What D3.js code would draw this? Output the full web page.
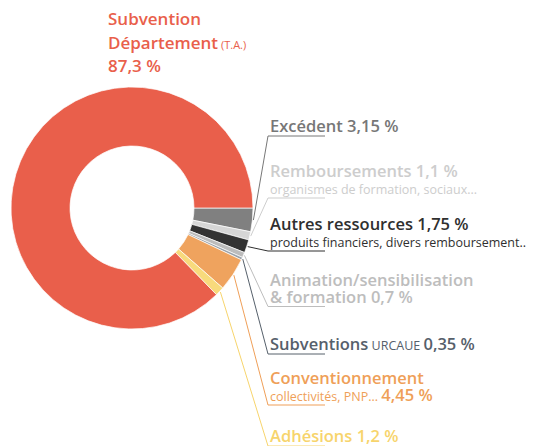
<!DOCTYPE html>
<html>
<head>
<meta charset="utf-8">
<script src="https://cdn.jsdelivr.net/npm/d3@7"></script>
<style>
  body { margin: 0; background: #fff; }
  svg { display: block; font-family: "Open Sans", sans-serif; }
</style>
</head>
<body>
<svg></svg>
<script>
// data, clockwise from 3 o'clock
var categories = ["Excédent", "Remboursements", "Autres ressources", "Animation/sensibilisation & formation",
    "Subventions URCAUE", "Conventionnement", "Adhésions", "Subvention Département"];
var values = [3.15, 1.1, 1.75, 0.7, 0.35, 4.45, 1.2, 87.3];
var valueLabels = ["3,15 %", "1,1 %", "1,75 %", "0,7 %", "0,35 %", "4,45 %", "1,2 %", "87,3 %"];

// label text, line by line: [text, "b" big bold | "s" small]
var labelLines = [
    [[["Excédent", "b"], [" 3,15 %", "b"]]],
    [[["Remboursements", "b"], [" 1,1 %", "b"]], [["organismes de formation, sociaux...", "s"]]],
    [[["Autres ressources", "b"], [" 1,75 %", "b"]], [["produits financiers, divers remboursement..", "s"]]],
    [[["Animation/sensibilisation", "b"]], [["& formation", "b"], [" 0,7 %", "b"]]],
    [[["Subventions", "b"], [" URCAUE ", "s"], ["0,35 %", "b"]]],
    [[["Conventionnement", "b"]], [["collectivités, PNP... ", "s"], ["4,45 %", "b"]]],
    [[["Adhésions", "b"], [" 1,2 %", "b"]]]
];
var mainLabel = [[["Subvention", "b"]], [["Département", "b"], [" (T.A.)", "s"]], [["87,3 %", "b"]]];

var colors = ["#808080", "#d6d6d6", "#333333", "#bcbcbc", "#9aa2aa", "#efa35e", "#f8da7c", "#e95f4b"];
var textColors = ["#777777", "#cdcdcd", "#2f2f2f", "#bdbdbd", "#56606b", "#ef9f58", "#f7d46c", "#e95f4b"];

// layout
var svgWidth = 535, svgHeight = 446;
var cx = 132, cy = 208, rOut = 121, rIn = 62;
var labelX = 268, underlineEnd = 325;
var firstBaselines = [132, 177, 230, 286, 350, 384, 442];

var svg = d3.select("svg")
    .attr("width", svgWidth)
    .attr("height", svgHeight);

var pie = d3.pie()
    .sort(null)
    .value(function(d) { return d; })
    .startAngle(Math.PI / 2)
    .endAngle(Math.PI / 2 + 2 * Math.PI);

var arcs = pie(values);

var arc = d3.arc().innerRadius(rIn).outerRadius(rOut);

var g = svg.append("g")
    .attr("transform", "translate(" + cx + "," + cy + ")");

g.selectAll("path")
    .data(arcs)
    .enter()
    .append("path")
    .attr("d", arc)
    .attr("fill", function(d, i) { return colors[i]; })
    .attr("stroke", "#fff")
    .attr("stroke-width", 0.7);

// text blocks
function drawBlock(x, y0, lines, color, bigSize, smallSize, step) {
    var t = svg.append("text").attr("x", x).attr("fill", color);
    lines.forEach(function(line, li) {
        line.forEach(function(seg, si) {
            var ts = t.append("tspan")
                .text(seg[0])
                .attr("font-size", seg[1] == "b" ? bigSize : smallSize)
                .attr("font-weight", seg[1] == "b" ? 600 : 400);
            if (si == 0) ts.attr("x", x).attr("y", y0 + li * step);
        });
    });
    return t;
}

drawBlock(108, 25, mainLabel, textColors[7], 17, 11, 23.5);

labelLines.forEach(function(lines, i) {
    var base = firstBaselines[i];
    var step = lines.length > 1 && lines[1][0][1] == "s" ? 17 : 16.5;
    drawBlock(labelX + 2, base, lines, textColors[i], 16.5, 12.5, step);

    var uy = base + (lines.length - 1) * step + 4;
    var a = (arcs[i].startAngle + arcs[i].endAngle) / 2;
    var px = Math.sin(a) * (rOut + 1) + cx;
    var py = -Math.cos(a) * (rOut + 1) + cy;

    svg.append("polyline")
        .attr("points", [[px, py], [labelX, uy], [underlineEnd, uy]].map(function(p) { return p.join(","); }).join(" "))
        .attr("fill", "none")
        .attr("stroke", textColors[i])
        .attr("stroke-width", 1);
});
</script>
</body>
</html>
